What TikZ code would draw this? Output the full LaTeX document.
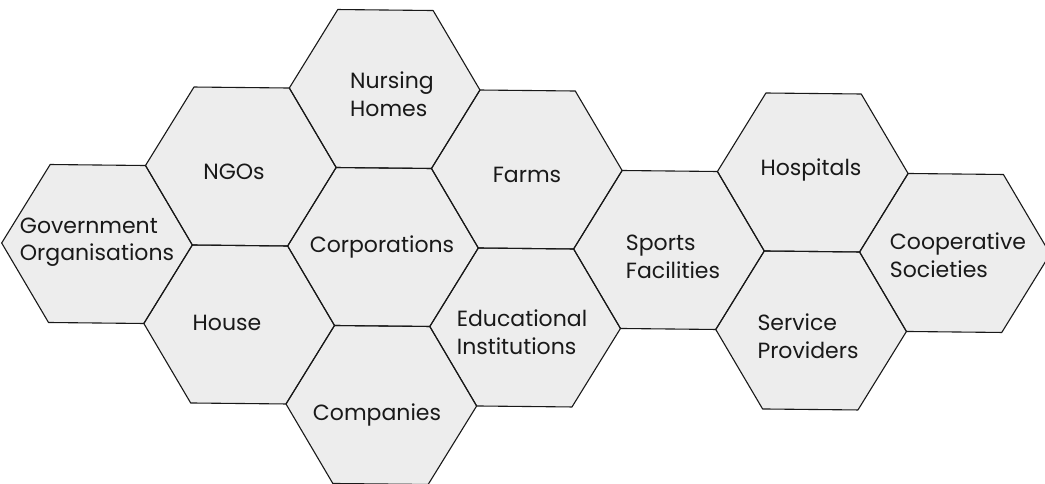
\documentclass[tikz,border=0pt]{standalone}
\usepackage{fontspec}
\setmainfont{Poppins}
\usepackage{tikz}

\tikzset{
  hexfill/.style={fill=black!7, draw=none},
  hexline/.style={draw=black!90, line width=1.1pt, line join=round},
  hexlabel/.style={align=left, inner sep=0pt, text=black!90,
    font=\fontsize{22}{27.5}\selectfont},
}

\begin{document}
\begin{tikzpicture}[x=1pt, y=-1pt]
\useasboundingbox (0,0) rectangle (1045,484);

% cells: column / half row
\def\cells{0/0, 1/-1, 1/1, 2/-2, 2/0, 2/2, 3/-1, 3/1, 4/0, 5/-1, 5/1, 6/0}

\begin{scope}[rotate around={-0.6:(97,244)}]
\foreach \i/\j in \cells
  \path[hexfill] (97+143*\i,244+79*\j) ++(-95.33,0) -- ++(47.67,-79)
    -- ++(95.33,0) -- ++(47.67,79) -- ++(-47.67,79) -- ++(-95.33,0) -- cycle;
\foreach \i/\j in \cells
  \path[hexline] (97+143*\i,244+79*\j) ++(-95.33,0) -- ++(47.67,-79)
    -- ++(95.33,0) -- ++(47.67,79) -- ++(-47.67,79) -- ++(-95.33,0) -- cycle;
\end{scope}

\node[hexlabel] (gov)     at (97,242)  {Government\\Organisations};
\node[hexlabel] (ngos)    at (234,172) {NGOs};
\node[hexlabel] (house)   at (227,323) {House};
\node[hexlabel] (nursing) at (392,94)  {Nursing\\Homes};
\node[hexlabel] (corp)    at (382,247) {Corporations};
\node[hexlabel] (comp)    at (377,415) {Companies};
\node[hexlabel] (farms)   at (527,175) {Farms};
\node[hexlabel] (edu)     at (522,332) {Educational\\Institutions};
\node[hexlabel] (sports)  at (673,257) {Sports\\Facilities};
\node[hexlabel] (hosp)    at (811,170) {Hospitals};
\node[hexlabel] (serv)    at (808,336) {Service\\Providers};
\node[hexlabel] (coop)    at (958,255) {Cooperative\\Societies};
\end{tikzpicture}
\end{document}
